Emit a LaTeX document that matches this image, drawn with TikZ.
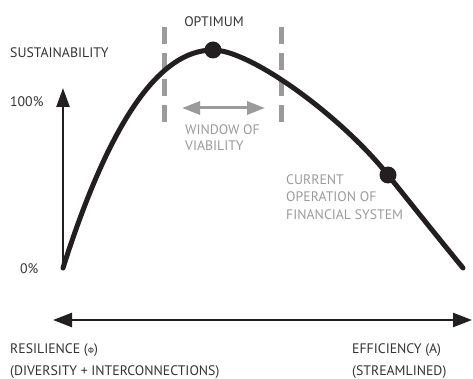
\documentclass[tikz,border=0pt]{standalone}
\usepackage{fontspec}
\setmainfont{PT Sans}
\newfontfamily\greekfont{DejaVu Sans}
\usetikzlibrary{arrows.meta}
\definecolor{ink}{HTML}{231F20}
\definecolor{txt}{HTML}{333333}
\definecolor{lgray}{HTML}{9B9B9B}
\tikzset{
  lbl/.style={inner sep=0pt, anchor=base west, text=txt, font=\fontsize{13.8}{16}\selectfont},
  glbl/.style={inner sep=0pt, anchor=base west, text=lgray, font=\fontsize{13.8}{16}\selectfont},
  curve/.style={line width=5pt, ink, line cap=round},
  guide/.style={line width=5pt, lgray, dash pattern=on 17pt off 9pt},
  axis/.style={line width=2.5pt, ink, {Triangle[length=19pt,width=14pt]}-{Triangle[length=19pt,width=14pt]}},
  vaxis/.style={line width=2.5pt, ink, -{Triangle[length=19pt,width=13pt]}},
  garrow/.style={line width=3pt, lgray, {Triangle[length=18pt,width=13pt]}-{Triangle[length=18pt,width=13pt]}},
  dot/.style={circle, fill=ink, inner sep=0pt, minimum size=17pt}
}
\begin{document}
\begin{tikzpicture}[x=1pt,y=-1pt]
\useasboundingbox (0,0) rectangle (473,379);
% guides
\coordinate (g1t) at (164,27); \coordinate (g1b) at (164,129);
\coordinate (g2t) at (281,27); \coordinate (g2b) at (281,129);
\draw[guide] (g1t) -- (g1b);
\draw[guide] (g2t) -- (g2b);
% window arrow
\coordinate (wa) at (182,108); \coordinate (wb) at (265,108);
\draw[garrow] (wa) -- (wb);
% vertical axis
\coordinate (v0) at (63,268); \coordinate (v1) at (63,88);
\draw[vaxis] (v0) -- (v1);
% horizontal axis
\coordinate (h0) at (53,320); \coordinate (h1) at (472,320);
\draw[axis] (h0) -- (h1);
% curve
\coordinate (c0) at (63,268);
\coordinate (peak) at (213,50);
\coordinate (cur) at (388,175);
\coordinate (c1) at (463,268);
\draw[curve] (c0) .. controls (110,120) and (160,50) .. (peak)
  .. controls (250,50) and (340,115) .. (cur)
  .. controls (420,215) and (440,240) .. (c1);
\node[dot] (opt) at (peak) {};
\node[dot] (curdot) at (cur) {};
% labels
\node[lbl, anchor=base] (toptimum) at (214,27) {OPTIMUM};
\node[lbl] (tsust) at (10,58) {SUSTAINABILITY};
\node[lbl] (t100) at (10,107) {100\%};
\node[lbl] (t0) at (20,273) {0\%};
\node[glbl] (twin1) at (185,135) {WINDOW OF};
\node[glbl] (twin2) at (185,151) {VIABILITY};
\node[glbl] (tcur1) at (286,185) {CURRENT};
\node[glbl] (tcur2) at (286,202) {OPERATION OF};
\node[glbl] (tcur3) at (286,219.5) {FINANCIAL SYSTEM};
\node[lbl] (tres) at (10,353) {RESILIENCE ({\greekfont\fontsize{8}{10}\selectfont Φ})};
\node[lbl] (tdiv) at (10,375) {(DIVERSITY + INTERCONNECTIONS)};
\node[lbl] (teff) at (352,353) {EFFICIENCY (A)};
\node[lbl] (tstr) at (352,375) {(STREAMLINED)};
\end{tikzpicture}
\end{document}
